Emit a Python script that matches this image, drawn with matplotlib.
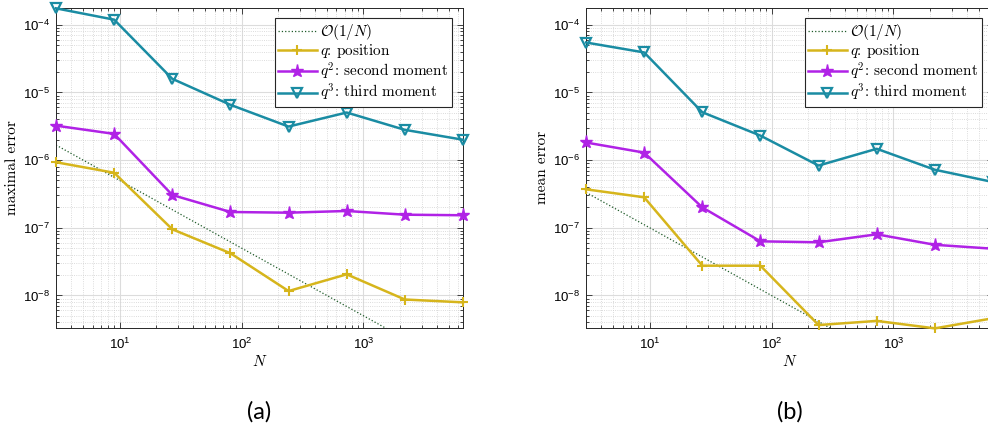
import matplotlib
matplotlib.use("Agg")
import matplotlib.pyplot as plt
from matplotlib.ticker import FuncFormatter, LogLocator, NullFormatter
import numpy as np

plt.rcParams["font.family"] = ["Liberation Sans", "DejaVu Sans"]
plt.rcParams["mathtext.fontset"] = "cm"

# Number of samples (powers of 3)
N = [3, 9, 27, 81, 243, 729, 2187, 6561]

# (a) maximal error
max_q = [9.3e-7, 6.5e-7, 9.5e-8, 4.2e-8, 1.16e-8, 2.05e-8, 8.7e-9, 7.9e-9]
max_q2 = [3.23e-6, 2.44e-6, 3.05e-7, 1.71e-7, 1.67e-7, 1.77e-7, 1.56e-7, 1.53e-7]
max_q3 = [1.75e-4, 1.19e-4, 1.59e-5, 6.56e-6, 3.13e-6, 5.05e-6, 2.8e-6, 2.0e-6]
max_ref = [1.67e-6, 5.56e-7, 1.85e-7, 6.17e-8, 2.06e-8, 6.86e-9, 2.29e-9, 7.6e-10]

# (b) mean error
mean_q = [3.7e-7, 2.82e-7, 2.75e-8, 2.75e-8, 3.65e-9, 4.2e-9, 3.26e-9, 4.6e-9]
mean_q2 = [1.82e-6, 1.29e-6, 2.0e-7, 6.3e-8, 6.1e-8, 8.0e-8, 5.6e-8, 4.9e-8]
mean_q3 = [5.47e-5, 3.9e-5, 5.1e-6, 2.3e-6, 8.3e-7, 1.47e-6, 7.2e-7, 4.74e-7]
mean_ref = [3.33e-7, 1.11e-7, 3.7e-8, 1.23e-8, 4.1e-9, 1.37e-9, 4.6e-10, 1.5e-10]

labels = [r"$\mathcal{O}(1/N)$",
          r"$q$: position",
          r"$q^2$: second moment",
          r"$q^3$: third moment"]

c_yel = "#D6B51C"
c_pur = "#B022E6"
c_teal = "#1A8CA3"

fig = plt.figure(figsize=(9.88, 4.25), dpi=100)
ax_a = fig.add_axes([56 / 988, 97 / 425, 407 / 988, 320.5 / 425])
ax_b = fig.add_axes([586 / 988, 97 / 425, 407 / 988, 320.5 / 425])


def sci(v, pos):
    e = int(round(np.log10(v)))
    return r"$\mathregular{10^{%d}}$" % e


def panel(ax, ref, q, q2, q3, ylabel, caption):
    ax.loglog(N, ref, ":", color="#1E5A28", lw=0.9, label=labels[0])
    ax.loglog(N, q, "-+", color=c_yel, lw=1.8, ms=7, mew=1.5,
              label=labels[1], clip_on=False, zorder=3)
    ax.loglog(N, q2, "-*", color=c_pur, lw=1.8, ms=9.5,
              label=labels[2], clip_on=False, zorder=3)
    ax.loglog(N, q3, "-v", color=c_teal, lw=1.8, ms=6.5, mew=1.6,
              mfc="none", label=labels[3], clip_on=False, zorder=3)

    ax.set_xlim(3, 6561)
    ax.set_ylim(3.3e-9, 1.8e-4)

    ax.xaxis.set_major_locator(LogLocator(base=10, numticks=10))
    ax.yaxis.set_major_locator(LogLocator(base=10, numticks=10))
    ax.xaxis.set_minor_locator(LogLocator(base=10, subs=np.arange(2, 10), numticks=20))
    ax.yaxis.set_minor_locator(LogLocator(base=10, subs=np.arange(2, 10), numticks=20))
    ax.xaxis.set_major_formatter(FuncFormatter(sci))
    ax.yaxis.set_major_formatter(FuncFormatter(sci))
    ax.xaxis.set_minor_formatter(NullFormatter())
    ax.yaxis.set_minor_formatter(NullFormatter())

    ax.tick_params(which="both", direction="in", top=True, right=True,
                   labelsize=9.5, color="#262626", width=0.6)
    ax.tick_params(which="major", length=4)
    ax.tick_params(axis="x", which="major", pad=6)
    ax.tick_params(axis="y", which="major", pad=4)
    ax.tick_params(which="minor", length=2.2)
    for s in ax.spines.values():
        s.set_color("#262626")
        s.set_linewidth(0.7)

    ax.grid(True, which="major", color="#DCDCDC", lw=0.8, ls="-")
    ax.grid(True, which="minor", color="#D0D0D0", lw=0.6, ls=":")
    ax.set_axisbelow(True)

    ax.set_xlabel(r"$N$", fontsize=11, labelpad=2)
    ax.set_ylabel(ylabel, fontsize=11, labelpad=3, family="cmr10")

    leg = ax.legend(loc="upper right", frameon=True, fancybox=False,
                    prop={"family": "cmr10", "size": 11},
                    borderaxespad=0.7, handlelength=2.5, handletextpad=0.25,
                    labelspacing=0.02, borderpad=0.25)
    leg.get_frame().set_edgecolor("#262626")
    leg.get_frame().set_linewidth(0.8)
    leg.get_frame().set_alpha(1)

    ax.text(0.5, -0.26, caption, transform=ax.transAxes, ha="center", va="center",
            fontsize=17, family=["Lato", "DejaVu Sans"])


panel(ax_a, max_ref, max_q, max_q2, max_q3, "maximal error", "(a)")
panel(ax_b, mean_ref, mean_q, mean_q2, mean_q3, "mean error", "(b)")

fig.savefig("out.png", dpi=100)
